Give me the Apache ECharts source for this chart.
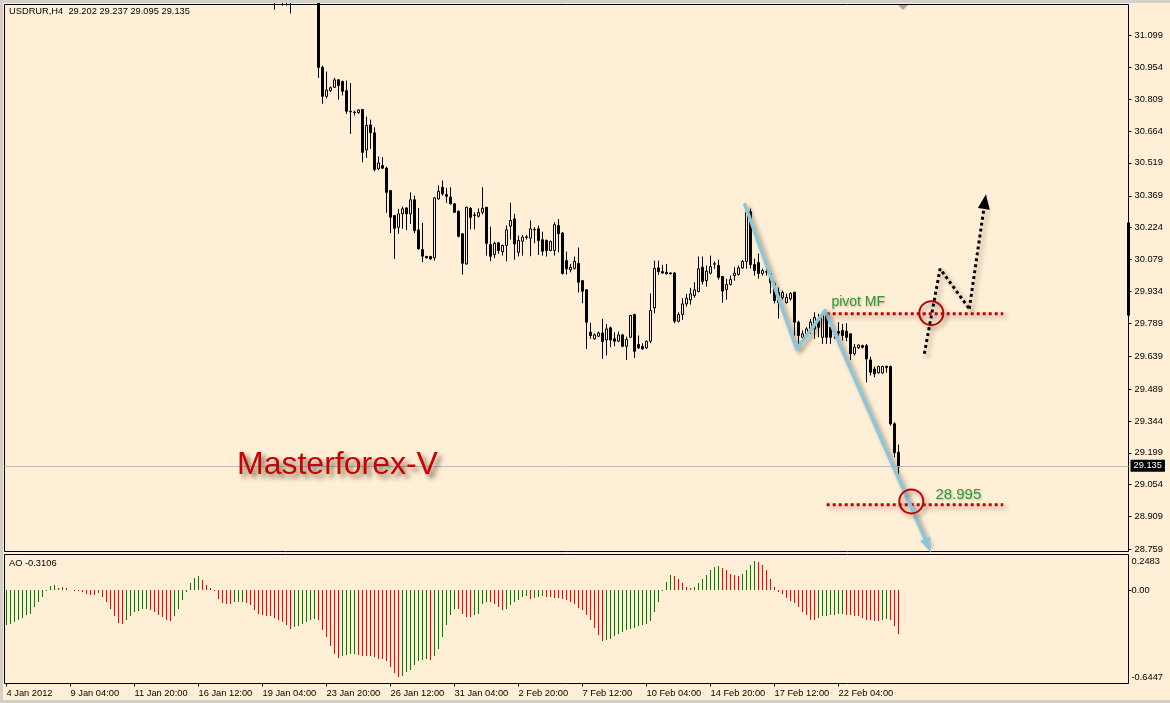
<!DOCTYPE html>
<html>
<head>
<meta charset="utf-8">
<script src="https://cdn.jsdelivr.net/npm/echarts@6/dist/echarts.min.js"></script>
<style>
html,body{margin:0;padding:0;background:#FFEFD6;}
#c{width:1170px;height:703px;}
</style>
</head>
<body>
<div id="c"></div>
<script>
// ---------------- DATA ----------------
const SYMBOL = 'USDRUR,H4';
const DATE_TICKS = ['4 Jan 2012','9 Jan 04:00','11 Jan 20:00','16 Jan 12:00','19 Jan 04:00','23 Jan 20:00','26 Jan 12:00','31 Jan 04:00','2 Feb 20:00','7 Feb 12:00','10 Feb 04:00','14 Feb 20:00','17 Feb 12:00','22 Feb 04:00'];
const BARS_PER_TICK = 16;
const PRICE_TICKS = [28.759,28.909,29.054,29.199,29.344,29.489,29.639,29.789,29.934,30.079,30.224,30.369,30.519,30.664,30.809,30.954,31.099];
const AO_TICKS = [0.2483, 0, -0.6447];
const N_SLOTS = 281;          // bars + empty right shift
const FIRST_BAR = 67;         // first bar whose candle reaches the visible price range

const OPEN = [
31.300,null,31.290,31.270,31.280,null,null,null,null,null,null,
31.270,30.954,30.822,30.848,30.863,30.897,30.889,30.848,30.754,30.750,
30.748,30.762,30.578,30.692,30.656,30.492,30.507,30.495,30.393,30.279,
30.226,30.287,30.314,30.287,30.351,30.214,30.124,30.093,30.093,30.087,
30.355,30.408,30.375,30.363,30.333,30.299,30.196,30.059,30.312,30.282,
30.276,30.294,30.317,30.147,30.102,30.155,30.115,30.143,30.231,30.264,
30.112,30.162,30.180,30.176,30.216,30.219,30.169,30.166,30.120,30.120,
30.234,30.200,30.074,30.032,30.039,30.061,29.983,29.941,29.748,29.718,
29.730,29.745,29.713,29.768,29.718,29.707,29.736,29.684,29.725,29.829,
29.692,29.684,29.677,29.707,29.859,30.041,30.024,30.021,30.018,30.018,
29.798,29.829,29.877,29.896,29.915,29.933,30.044,29.983,30.017,30.060,
30.052,30.002,29.942,29.965,30.006,30.011,30.041,30.070,30.297,30.056,
30.065,30.015,30.024,30.015,29.970,29.929,29.906,29.883,29.900,29.930,
29.794,29.725,29.741,29.756,29.763,29.809,29.725,29.832,29.771,29.742,
29.751,29.756,29.753,29.741,29.650,29.677,29.687,29.687,29.622,29.581,
29.563,29.563,29.593,29.592,29.331,29.202];
const HIGH = [
31.330,null,31.310,31.300,31.300,null,null,null,null,null,null,
31.290,30.961,30.935,30.867,30.906,30.900,30.894,30.894,30.883,30.757,
30.763,30.762,30.730,30.716,30.681,30.548,30.545,30.502,30.393,30.282,
30.310,30.320,30.317,30.385,30.370,30.314,30.246,30.096,30.096,30.363,
30.416,30.439,30.405,30.408,30.335,30.302,30.199,30.320,30.317,30.294,
30.312,30.408,30.317,30.229,30.161,30.158,30.147,30.234,30.337,30.287,
30.188,30.191,30.191,30.257,30.226,30.234,30.206,30.170,30.166,30.249,
30.264,30.203,30.115,30.059,30.093,30.134,29.986,29.944,29.791,29.743,
29.751,29.809,29.786,29.774,29.748,29.751,29.741,29.728,29.827,29.832,
29.733,29.698,29.710,29.925,30.074,30.074,30.055,30.059,30.020,30.021,
29.839,29.903,29.923,29.950,29.976,30.093,30.093,30.052,30.097,30.070,
30.078,30.002,29.991,30.006,30.044,30.052,30.078,30.302,30.311,30.083,
30.106,30.038,30.038,30.024,29.979,29.952,29.938,29.924,29.930,29.932,
29.801,29.756,29.771,29.809,29.839,29.832,29.839,29.839,29.801,29.763,
29.794,29.786,29.789,29.743,29.695,29.692,29.692,29.695,29.637,29.592,
29.596,29.596,29.596,29.596,29.338,29.237];
const LOW = [
31.217,null,31.235,31.235,31.199,null,null,null,null,null,null,
30.906,30.788,30.812,30.841,30.861,30.807,30.826,30.742,30.651,30.735,
30.742,30.522,30.542,30.583,30.481,30.487,30.492,30.292,30.200,30.082,
30.196,30.219,30.214,30.241,30.199,30.124,30.067,30.084,30.078,30.074,
30.352,30.370,30.337,30.329,30.292,30.180,30.011,30.056,30.216,30.216,
30.271,30.284,30.097,30.071,30.085,30.105,30.097,30.071,30.170,30.078,
30.093,30.097,30.170,30.094,30.153,30.100,30.097,30.093,30.117,30.097,
30.112,30.011,30.011,30.021,30.033,29.929,29.880,29.672,29.718,29.715,
29.726,29.627,29.642,29.680,29.684,29.703,29.680,29.622,29.722,29.631,
29.672,29.669,29.672,29.698,29.834,30.009,30.014,30.011,30.012,29.789,
29.793,29.804,29.865,29.874,29.905,29.930,29.965,29.956,30.011,30.037,
29.988,29.882,29.896,29.961,29.983,30.006,30.037,30.037,30.038,30.006,
29.992,30.006,30.006,29.924,29.879,29.810,29.897,29.879,29.892,29.733,
29.687,29.710,29.725,29.741,29.718,29.725,29.695,29.695,29.695,29.718,
29.733,29.710,29.707,29.622,29.642,29.672,29.674,29.520,29.551,29.543,
29.560,29.560,29.564,29.323,29.179,29.095];
const CLOSE = [
31.280,null,31.270,31.280,31.260,null,null,null,null,null,null,
30.954,30.822,30.851,30.861,30.897,30.871,30.845,30.754,30.752,30.748,
30.760,30.567,30.689,30.656,30.489,30.519,30.495,30.385,30.272,30.221,
30.287,30.310,30.287,30.351,30.211,30.128,30.094,30.087,30.082,30.360,
30.390,30.378,30.367,30.333,30.294,30.185,30.062,30.317,30.271,30.280,
30.293,30.312,30.153,30.094,30.153,30.120,30.143,30.214,30.257,30.150,
30.166,30.181,30.182,30.219,30.214,30.166,30.117,30.120,30.161,30.238,
30.196,30.016,30.037,30.044,30.071,29.976,29.935,29.794,29.733,29.736,
29.745,29.706,29.763,29.713,29.707,29.736,29.684,29.715,29.824,29.661,
29.677,29.672,29.707,29.847,30.039,30.024,30.018,30.014,30.014,29.798,
29.829,29.877,29.903,29.923,29.941,30.037,29.979,30.026,30.047,30.058,
29.998,29.935,29.965,29.988,30.017,30.041,30.070,30.294,30.056,30.029,
30.015,30.029,30.022,29.974,29.892,29.883,29.929,29.906,29.925,29.794,
29.733,29.741,29.763,29.794,29.816,29.771,29.824,29.725,29.725,29.740,
29.744,29.733,29.725,29.650,29.680,29.690,29.680,29.627,29.566,29.559,
29.592,29.592,29.587,29.331,29.200,29.135];

const AO = [
-0.252,-0.240,-0.228,-0.216,-0.197,-0.180,-0.168,-0.120,-0.084,-0.048,
-0.005,0.031,0.036,0.017,0.024,0.019,0.003,-0.001,-0.002,-0.012,
-0.024,-0.031,-0.034,-0.019,-0.048,-0.084,-0.132,-0.187,-0.235,-0.240,
-0.211,-0.187,-0.156,-0.149,-0.132,-0.130,-0.144,-0.156,-0.173,-0.192,
-0.216,-0.218,-0.187,-0.132,-0.072,-0.008,0.053,0.091,0.103,0.072,
0.041,0.017,-0.004,-0.060,-0.091,-0.096,-0.098,-0.086,-0.084,-0.082,
-0.091,-0.108,-0.144,-0.168,-0.180,-0.182,-0.187,-0.197,-0.211,-0.228,
-0.252,-0.276,-0.264,-0.259,-0.240,-0.228,-0.216,-0.206,-0.216,-0.283,
-0.336,-0.403,-0.456,-0.487,-0.468,-0.461,-0.456,-0.454,-0.463,-0.468,
-0.473,-0.475,-0.480,-0.490,-0.494,-0.509,-0.552,-0.595,-0.624,-0.612,
-0.588,-0.571,-0.533,-0.509,-0.499,-0.494,-0.499,-0.468,-0.420,-0.336,
-0.252,-0.180,-0.132,-0.134,-0.168,-0.192,-0.194,-0.180,-0.168,-0.096,
-0.084,-0.086,-0.096,-0.120,-0.144,-0.132,-0.108,-0.084,-0.072,-0.048,
-0.043,-0.060,-0.053,-0.048,-0.043,-0.048,-0.050,-0.053,-0.055,-0.060,
-0.067,-0.086,-0.096,-0.127,-0.144,-0.180,-0.211,-0.271,-0.324,-0.360,
-0.358,-0.348,-0.331,-0.312,-0.300,-0.288,-0.276,-0.269,-0.259,-0.252,
-0.240,-0.221,-0.156,-0.084,-0.005,0.060,0.108,0.106,0.084,0.053,
0.024,0.017,0.024,0.055,0.084,0.115,0.144,0.168,0.173,0.161,
0.144,0.120,0.108,0.101,0.120,0.144,0.187,0.211,0.204,0.187,
0.144,0.084,0.024,-0.012,-0.024,-0.053,-0.079,-0.089,-0.120,-0.156,
-0.180,-0.209,-0.216,-0.197,-0.187,-0.182,-0.178,-0.173,-0.170,-0.168,
-0.173,-0.178,-0.182,-0.187,-0.199,-0.209,-0.216,-0.221,-0.223,-0.211,
-0.204,-0.216,-0.259,-0.3106];

// annotation drawings, in [bar index, price]
const BLUE_PATH = [[184.6,30.329],[197.55,29.672],[204.6,29.847],[230.4,28.777]];
const BLACK_PATH = [[229.45,29.650],[233.4,30.037],[240.7,29.855],[244.6,30.343]];
const LEVEL_SPAN = [205.05, 249.2];
const PIVOT_LEVEL = 29.832;
const TARGET_LEVEL = 28.963;
const PIVOT_TEXT = 'pivot MF';
const TARGET_TEXT = '28.995';
const PIVOT_TEXT_AT = [206.1, 29.883];
const TARGET_TEXT_AT = [232.1, 29.009];
const CIRCLES = [[231.2, 29.835],[226.2, 28.978]];
const AXIS_MARK = [[280.5, 30.247],[280.5, 29.824]];
const BRAND = 'Masterforex-V';

// ---------------- BUILD ----------------
const FONT = "'Liberation Sans', Arial, sans-serif";
const BG = '#FFEFD6';
const FRAME = '#D4D0C8';
const BLUE = '#8CC6DC';
const RED_DOT = '#C80000';
const CIRCLE_RED = '#C00000';
const GREEN_TXT = '#2E9A2E';
const AO_UP = '#008000', AO_DOWN = '#FF0000';
const SH = {shadowColor:'rgba(70,50,30,0.45)', shadowBlur:4, shadowOffsetX:3, shadowOffsetY:3};
const NOSH = {shadowColor:'rgba(0,0,0,0)', shadowBlur:0, shadowOffsetX:0, shadowOffsetY:0};

const NB = AO.length;
const LAST = OPEN.length - 1;
const CATS = Array.from({length:N_SLOTS}, (_, i) => String(i));
const candles = [];
for (let i = 0; i < NB; i++) {
  const j = i - FIRST_BAR;
  if (j < 0 || OPEN[j] == null) candles.push(['-','-','-','-']);
  else candles.push([OPEN[j], CLOSE[j], LOW[j], HIGH[j]]);
}
const aoData = AO.map((v, i) => [i, v, (i === 0 || v > AO[i-1]) ? 1 : 0]);
const header = SYMBOL + '  ' + [OPEN[LAST], HIGH[LAST], LOW[LAST], CLOSE[LAST]].map(v => v.toFixed(3)).join(' ');
const isTick = idx => idx % BARS_PER_TICK === 0 && idx / BARS_PER_TICK < DATE_TICKS.length;

const lblStyle = {fontSize:9.3, color:'#000', fontFamily:FONT};
const hiddenAxisParts = {axisLine:{show:false, onZero:false}, axisTick:{show:false}, axisLabel:{show:false}, splitLine:{show:false}};

const option = {
  backgroundColor: BG,
  animation: false,
  textStyle: {fontFamily: FONT},
  title: [
    {text: header, left: 9, top: 7, padding: 0, textStyle: Object.assign({fontWeight:'normal'}, lblStyle)},
    {text: 'AO ' + AO[NB-1].toFixed(4), left: 9, top: 559, padding: 0, textStyle: Object.assign({fontWeight:'normal'}, lblStyle)},
    {text: BRAND, left: 237, top: 449, padding: 0,
     textStyle: {fontSize: 32, fontWeight:'normal', color:'#CC0000', fontFamily: FONT,
                 textShadowColor:'rgba(50,30,10,0.65)', textShadowBlur:5, textShadowOffsetX:4, textShadowOffsetY:4}}
  ],
  grid: [
    {left: 4.5, top: 4.5, width: 1124, height: 547, show: true, borderColor:'#000', borderWidth:1, backgroundColor:'transparent', containLabel:false, outerBoundsMode:'none'},
    {left: 4.5, top: 554.5, width: 1124, height: 129, show: true, borderColor:'#000', borderWidth:1, backgroundColor:'transparent', containLabel:false, outerBoundsMode:'none'}
  ],
  xAxis: [
    Object.assign({type:'category', gridIndex:0, data: CATS, boundaryGap:true, show:false}, hiddenAxisParts),
    Object.assign({type:'value', gridIndex:0, min:-0.5, max:N_SLOTS-0.5, show:false}, hiddenAxisParts),
    {type:'category', gridIndex:1, data: CATS, boundaryGap:true, position:'bottom',
     axisLine:{show:false, onZero:false}, splitLine:{show:false},
     axisTick:{show:true, interval:(idx) => isTick(idx), alignWithLabel:true, length:3, lineStyle:{color:'#000', width:1}},
     axisLabel:Object.assign({interval:(idx) => isTick(idx), align:'left', margin:5,
       formatter:(v, idx) => isTick(idx) ? DATE_TICKS[idx / BARS_PER_TICK] : ''}, lblStyle)}
  ],
  yAxis: [
    {type:'value', gridIndex:0, position:'right', min:28.7499, max:31.2401,
     axisLine:{show:false, onZero:false}, splitLine:{show:false},
     axisTick:{show:true, length:3, customValues: PRICE_TICKS, lineStyle:{color:'#000'}},
     axisLabel:Object.assign({customValues: PRICE_TICKS, margin:6, formatter: v => v.toFixed(3)}, lblStyle)},
    {type:'value', gridIndex:1, position:'right', min:-0.6695, max:0.259,
     axisLine:{show:false, onZero:false}, splitLine:{show:false},
     axisTick:{show:true, length:3, customValues:[0], lineStyle:{color:'#000'}},
     axisLabel:Object.assign({customValues: AO_TICKS, margin:3,
       formatter: v => v === 0 ? '0.00' : (v > 0 ? '{t|' + v.toFixed(4) + '}' : '{b|' + v.toFixed(4) + '}'),
       rich:{t:Object.assign({padding:[11,0,0,0]}, lblStyle), b:Object.assign({padding:[0,0,5,0]}, lblStyle)}}, lblStyle)}
  ],
  graphic: [
    {type:'rect', shape:{x:0,y:0,width:1170,height:3}, style:{fill:FRAME}, silent:true, z:100},
    {type:'rect', shape:{x:0,y:0,width:3,height:703}, style:{fill:FRAME}, silent:true, z:100},
    {type:'rect', shape:{x:0,y:700,width:1170,height:3}, style:{fill:FRAME}, silent:true, z:100},
    {type:'polygon', shape:{points:[[898,5],[908,5],[903,10]]}, style:{fill:'#A8A8A8'}, silent:true, z:100}
  ],
  series: [
    {
      type:'candlestick', name:'USDRUR', xAxisIndex:0, yAxisIndex:0, data:candles,
      barWidth:2, clip:true, silent:true,
      itemStyle:{color:BG, color0:'#000', borderColor:'#000', borderColor0:'#000', borderColorDoji:'#000', borderWidth:1},
      markLine:{silent:true, symbol:['none','none'], animation:false,
        data:[{yAxis: CLOSE[LAST]}],
        lineStyle:{color:'#BDBDBD', width:1, type:'solid'},
        label:{show:true, position:'end', formatter: CLOSE[LAST].toFixed(3), color:'#fff', backgroundColor:'#000',
               padding:[2,3,1,3], fontSize:9.3, fontFamily:FONT, distance:2}}
    },
    {
      type:'custom', name:'AO', xAxisIndex:2, yAxisIndex:1, data:aoData, encode:{x:0, y:1}, silent:true, clip:true,
      renderItem: function (params, api) {
        const i = api.value(0), v = api.value(1);
        const p0 = api.coord([i, 0]), p1 = api.coord([i, v]);
        const y0 = Math.round(p0[1]), y1 = Math.round(p1[1]);
        return {type:'rect', shape:{x: Math.floor(p0[0]), y: Math.min(y0, y1), width:1, height: Math.abs(y1 - y0)},
                style:{fill: api.value(2) ? AO_UP : AO_DOWN}};
      }
    },
    {
      type:'line', name:'wave', xAxisIndex:1, yAxisIndex:0, data: BLUE_PATH.slice(0, 3), symbol:'none', silent:true, z:5,
      lineStyle:Object.assign({color:BLUE, width:3.5, join:'round', cap:'round'}, SH),
      markLine:{silent:true, animation:false, symbol:['none','triangle'], symbolSize:[11,15],
        lineStyle:Object.assign({color:BLUE, width:3.5, type:'solid'}, SH),
        label:{show:false},
        data:[
          [{coord: BLUE_PATH[2]}, {coord: BLUE_PATH[3]}],
          [{coord: AXIS_MARK[0], symbol:'none', lineStyle:Object.assign({color:'#000', width:3, type:'solid'}, NOSH)},
           {coord: AXIS_MARK[1], symbol:'none'}]
        ]}
    },
    {
      type:'line', name:'scenario', xAxisIndex:1, yAxisIndex:0, data: BLACK_PATH.slice(0, 3), symbol:'none', silent:true, z:5,
      lineStyle:Object.assign({color:'#000', width:3, type:[3,3], cap:'butt'}, SH),
      markLine:{silent:true, animation:false, symbol:['none','triangle'], symbolSize:[12,15],
        lineStyle:Object.assign({color:'#000', width:3, type:[3,3]}, SH),
        label:{show:false},
        data:[[{coord: BLACK_PATH[2]}, {coord: BLACK_PATH[3]}]]}
    },
    {
      type:'line', name:'pivot', xAxisIndex:1, yAxisIndex:0,
      data:[[LEVEL_SPAN[0], PIVOT_LEVEL],[LEVEL_SPAN[1], PIVOT_LEVEL]], symbol:'none', silent:true, z:4,
      lineStyle:Object.assign({color:RED_DOT, width:3, type:[3,3], cap:'butt'}, SH),
      markPoint:{silent:true, animation:false, data:[
        {coord: CIRCLES[0], symbol:'circle', symbolSize:24,
         itemStyle:Object.assign({color:'rgba(0,0,0,0)', borderColor:CIRCLE_RED, borderWidth:2}, SH), label:{show:false}},
        {coord: PIVOT_TEXT_AT, symbol:'rect', symbolSize:1, itemStyle:{color:'rgba(0,0,0,0)'},
         label:{show:true, position:'right', distance:0, formatter: PIVOT_TEXT, color:GREEN_TXT, fontSize:14, fontFamily:FONT,
                textShadowColor:'rgba(0,0,0,0.25)', textShadowBlur:2, textShadowOffsetX:1, textShadowOffsetY:1}}
      ]}
    },
    {
      type:'line', name:'target', xAxisIndex:1, yAxisIndex:0,
      data:[[LEVEL_SPAN[0], TARGET_LEVEL],[LEVEL_SPAN[1], TARGET_LEVEL]], symbol:'none', silent:true, z:4,
      lineStyle:Object.assign({color:RED_DOT, width:3, type:[3,3], cap:'butt'}, SH),
      markPoint:{silent:true, animation:false, data:[
        {coord: CIRCLES[1], symbol:'circle', symbolSize:24,
         itemStyle:Object.assign({color:'rgba(0,0,0,0)', borderColor:CIRCLE_RED, borderWidth:2}, SH), label:{show:false}},
        {coord: TARGET_TEXT_AT, symbol:'rect', symbolSize:1, itemStyle:{color:'rgba(0,0,0,0)'},
         label:{show:true, position:'right', distance:0, formatter: TARGET_TEXT, color:GREEN_TXT, fontSize:15, fontFamily:FONT,
                textShadowColor:'rgba(0,0,0,0.25)', textShadowBlur:2, textShadowOffsetX:1, textShadowOffsetY:1}}
      ]}
    }
  ]
};

const chart = echarts.init(document.getElementById('c'), null, {renderer:'canvas'});
chart.setOption(option);
</script>
</body>
</html>
